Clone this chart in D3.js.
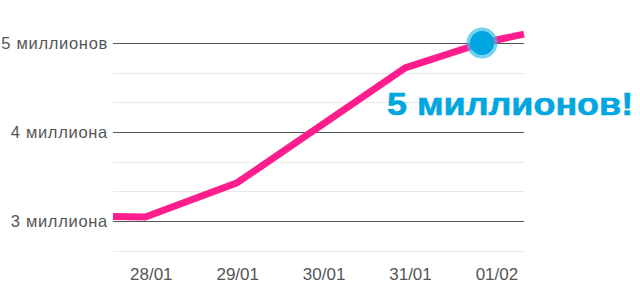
<!DOCTYPE html>
<html>
<head>
<meta charset="utf-8">
<script src="https://cdn.jsdelivr.net/npm/d3@7"></script>
<style>
  body{margin:0;background:#fff;}
  svg{display:block;font-family:"Liberation Sans",Arial,sans-serif;}
</style>
</head>
<body>
<svg id="chart" width="640" height="300"></svg>
<script>
// данные: время и число пользователей (в миллионах)
var times = ["2015-01-27T13:30","2015-01-27T22:30","2015-01-29T00:00","2015-01-30T22:40","2015-01-31T20:00","2015-02-01T07:40"];
var users = [3.05, 3.045, 3.43, 4.72, 5.0, 5.1];

var xTicks = ["2015-01-28","2015-01-29","2015-01-30","2015-01-31","2015-02-01"];
var xTickLabels = ["28/01","29/01","30/01","31/01","01/02"];
var yMajor = [3, 4, 5];
var yMajorLabels = ["3 миллиона","4 миллиона","5 миллионов"];
var yMinor = [8/3, 10/3, 11/3, 13/3, 14/3];

var milestone = {time:"2015-01-31T20:00", value:5, label:"5 миллионов!"};

var parse = d3.isoParse;
var svg = d3.select("#chart");

var x = d3.scaleTime()
    .domain([parse(times[0]), parse(times[times.length-1])])
    .range([113, 524]);
var y = d3.scaleLinear().domain([3,5]).range([221,43]);

//светлые промежуточные линии
svg.append("g").selectAll("line").data(yMinor).enter().append("line")
    .attr("x1",113).attr("x2",524)
    .attr("y1",function(d){return Math.round(y(d))+0.5})
    .attr("y2",function(d){return Math.round(y(d))+0.5})
    .attr("stroke","#e9e9e9").attr("stroke-width",1);

// ось Y: основные линии и подписи
var yAxis = d3.axisLeft(y).tickValues(yMajor)
    .tickSize(-411).tickPadding(5)
    .tickFormat(function(d,i){return yMajorLabels[i]});
var gy = svg.append("g").attr("transform","translate(113,0)").call(yAxis);
gy.select(".domain").remove();
gy.selectAll(".tick line").attr("stroke","#555");
gy.selectAll(".tick text").attr("fill","#555").attr("font-size",16.5)
    .attr("letter-spacing",0.7)
    .attr("font-family","Liberation Sans, Arial, sans-serif");

// ось X
var xAxis = d3.axisBottom(x).tickValues(xTicks.map(parse))
    .tickSize(0).tickPadding(0)
    .tickFormat(function(d,i){return xTickLabels[i]});
var gx = svg.append("g").attr("transform","translate(0,268)").call(xAxis);
gx.select(".domain").remove();
gx.selectAll(".tick text").attr("fill","#555").attr("font-size",17)
    .attr("font-family","Liberation Sans, Arial, sans-serif");

// линия роста
var line = d3.line()
    .x(function(d,i){return x(parse(times[i]))})
    .y(function(d){return y(d)});
svg.append("path").datum(users)
    .attr("d",line)
    .attr("fill","none")
    .attr("stroke","#ff1c8d")
    .attr("stroke-width",7)
    .attr("stroke-linejoin","round");

// отметка 5 миллионов
var mx = x(parse(milestone.time)), my = y(milestone.value);
svg.append("circle").attr("cx",mx).attr("cy",my).attr("r",15.5)
    .attr("fill","#3dbdea").attr("fill-opacity",0.7);
svg.append("circle").attr("cx",mx).attr("cy",my).attr("r",12)
    .attr("fill","#00a6df");

// подпись растягиваем по горизонтали, как в оригинале
svg.append("text").attr("transform","translate(387,115) scale(1.16,1)")
    .attr("fill","#00a6df")
    .attr("font-size",31).attr("font-weight","bold")
    .attr("stroke","#00a6df").attr("stroke-width",0.6)
    .attr("font-family","Liberation Sans, Arial, sans-serif")
    .text(milestone.label);
</script>
</body>
</html>
